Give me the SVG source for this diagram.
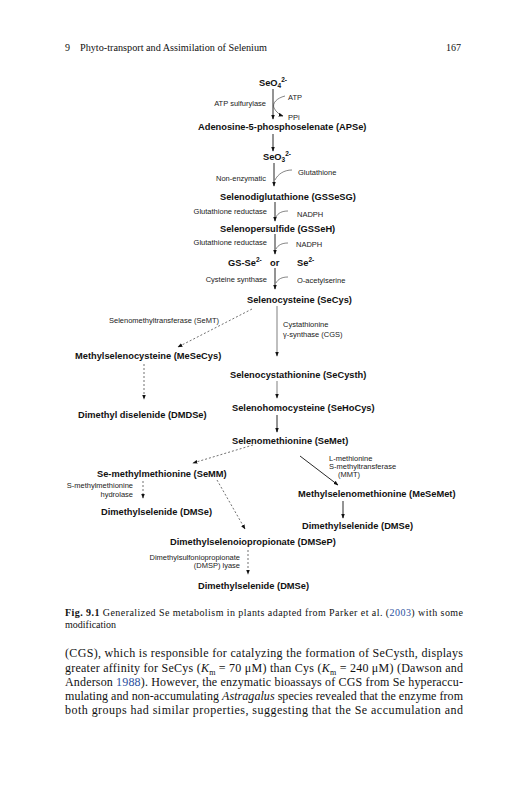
<svg xmlns="http://www.w3.org/2000/svg" width="527" height="800" viewBox="0 0 527 800">
<style>
.hd{font-family:"Liberation Serif",serif;font-size:10px;fill:#111}
.cap{font-family:"Liberation Serif",serif;font-size:10px;fill:#111}
.body{font-family:"Liberation Serif",serif;font-size:12px;fill:#111}
.n{font-family:"Liberation Sans",Arial,sans-serif;font-size:9.3px;font-weight:bold;fill:#111}
.l{font-family:"Liberation Sans",Arial,sans-serif;font-size:7.5px;fill:#222}
.e{text-anchor:end}
.a{fill:none;stroke:#111;stroke-width:0.9;marker-end:url(#ah)}
.c{fill:none;stroke:#333;stroke-width:0.6}
.g{fill:none;stroke:#aaa;stroke-width:1.5;marker-end:url(#ah)}
.d{fill:none;stroke:#333;stroke-width:0.7;stroke-dasharray:2 2;marker-end:url(#ah)}
.ref{fill:#2a4fa0}
</style>
<defs>
<marker id="ah" viewBox="0 0 8 6" refX="7" refY="3" markerWidth="5" markerHeight="4" markerUnits="userSpaceOnUse" orient="auto">
<path d="M0,0 L8,3 L0,6 z" fill="#111"/>
</marker>
</defs>
<rect width="527" height="800" fill="#fff"/>

<g id="header">
<text class="hd" x="65" y="51">9</text>
<text class="hd" x="80" y="51" textLength="187" lengthAdjust="spacingAndGlyphs">Phyto-transport and Assimilation of Selenium</text>
<text class="hd e" x="461" y="51">167</text>
</g>

<g id="connectors">
<path class="a" d="M273,89 V119"/>
<path class="c" d="M285,96 C277,98 272,103 274,108 C276,112 280,115 283,116" style="marker-end:url(#ah)"/>
<path class="a" d="M273,134 V151"/>
<path class="a" d="M274,163 V186"/>
<path class="c" d="M292,170 C284,170 278,174 275,180"/>
<path class="a" d="M275,202 V221"/>
<path class="c" d="M288,211 C282,211 278,213 276,217"/>
<path class="a" d="M275,234 V254"/>
<path class="c" d="M288,243 C282,243 278,245 276,249"/>
<path class="a" d="M275,268 V289"/>
<path class="c" d="M288,277 C282,277 278,279 276,283"/>
<path class="g" d="M277,306 V356"/>
<path class="g" d="M277,381 V398"/>
<path class="a" d="M277,415 V432"/>
<path class="a" d="M300,456 L338,485"/>
<path class="a" d="M343,501 V518"/>
<path class="d" d="M252,309 L178,347"/>
<path class="d" d="M144,364 V399"/>
<path class="d" d="M253,445 L193,463"/>
<path class="d" d="M143,481 V498"/>
<path class="d" d="M217,480 L245,529"/>
<path class="d" d="M248,550 V574"/>
</g>

<g id="edge-labels">
<text class="l" x="288" y="99.5">ATP</text>
<text class="l e" x="266" y="106">ATP sulfurylase</text>
<text class="l" x="288" y="119.5">PPi</text>
<text class="l e" x="266" y="181">Non-enzymatic</text>
<text class="l" x="298" y="175">Glutathione</text>
<text class="l e" x="267" y="214">Glutathione reductase</text>
<text class="l" x="297" y="217">NADPH</text>
<text class="l e" x="267" y="245">Glutathione reductase</text>
<text class="l" x="296" y="247">NADPH</text>
<text class="l e" x="267" y="282">Cysteine synthase</text>
<text class="l" x="297" y="283">O-acetylserine</text>
<text class="l e" x="219" y="323">Selenomethyltransferase (SeMT)</text>
<text class="l" x="283" y="327">Cystathionine</text>
<text class="l" x="283" y="337">γ-synthase (CGS)</text>
<text class="l" x="329" y="461">L-methionine</text>
<text class="l" x="329" y="469">S-methyltransferase</text>
<text class="l" x="338" y="477">(MMT)</text>
<text class="l e" x="133" y="488">S-methylmethionine</text>
<text class="l e" x="133" y="497">hydrolase</text>
<text class="l e" x="240" y="560">Dimethylsulfoniopropionate</text>
<text class="l e" x="240" y="568">(DMSP) lyase</text>
</g>

<g id="n-seo4"><text class="n" x="259" y="86">SeO<tspan font-size="6.5" dy="2">4</tspan><tspan font-size="6.5" dy="-6.5">2-</tspan></text></g>
<g id="n-apse"><text class="n" x="198" y="130">Adenosine-5-phosphoselenate (APSe)</text></g>
<g id="n-seo3"><text class="n" x="263" y="160">SeO<tspan font-size="6.5" dy="2">3</tspan><tspan font-size="6.5" dy="-6.5">2-</tspan></text></g>
<g id="n-gssesg"><text class="n" x="220" y="200">Selenodiglutathione (GSSeSG)</text></g>
<g id="n-gsseh"><text class="n" x="220" y="231.5">Selenopersulfide (GSSeH)</text></g>
<g id="n-gsse"><text class="n" x="228" y="266">GS-Se<tspan font-size="6.5" dy="-4">2-</tspan></text><text class="n" x="270" y="266">or</text><text class="n" x="297" y="266">Se<tspan font-size="6.5" dy="-4">2-</tspan></text></g>
<g id="n-secys"><text class="n" x="247" y="303">Selenocysteine (SeCys)</text></g>
<g id="n-mesecys"><text class="n" x="75" y="359">Methylselenocysteine (MeSeCys)</text></g>
<g id="n-secysth"><text class="n" x="230" y="378">Selenocystathionine (SeCysth)</text></g>
<g id="n-dmdse"><text class="n" x="78" y="418">Dimethyl diselenide (DMDSe)</text></g>
<g id="n-sehocys"><text class="n" x="232" y="411">Selenohomocysteine (SeHoCys)</text></g>
<g id="n-semet"><text class="n" x="232" y="444">Selenomethionine (SeMet)</text></g>
<g id="n-semm"><text class="n" x="97" y="477">Se-methylmethionine (SeMM)</text></g>
<g id="n-mesemet"><text class="n" x="298" y="497">Methylselenomethionine (MeSeMet)</text></g>
<g id="n-dmse1"><text class="n" x="101" y="515">Dimethylselenide (DMSe)</text></g>
<g id="n-dmse2"><text class="n" x="302" y="529">Dimethylselenide (DMSe)</text></g>
<g id="n-dmsep"><text class="n" x="170" y="545">Dimethylselenoiopropionate (DMSeP)</text></g>
<g id="n-dmse3"><text class="n" x="198" y="589">Dimethylselenide (DMSe)</text></g>

<g id="caption">
<text class="cap" x="65" y="616" textLength="398" lengthAdjust="spacing"><tspan font-weight="bold">Fig. 9.1</tspan>  Generalized Se metabolism in plants adapted from Parker et al. (<tspan class="ref">2003</tspan>) with some</text>
<text class="cap" x="65" y="628">modification</text>
</g>

<g id="body">
<text class="body" x="65" y="657" textLength="398" lengthAdjust="spacing">(CGS), which is responsible for catalyzing the formation of SeCysth, displays</text>
<text class="body" x="65" y="672" textLength="398" lengthAdjust="spacing">greater affinity for SeCys (<tspan font-style="italic">K</tspan><tspan font-size="8" dy="2.5">m</tspan><tspan dy="-2.5"> = 70 μM) than Cys (</tspan><tspan font-style="italic">K</tspan><tspan font-size="8" dy="2.5">m</tspan><tspan dy="-2.5"> = 240 μM) (Dawson and</tspan></text>
<text class="body" x="65" y="686" textLength="398" lengthAdjust="spacing">Anderson <tspan class="ref">1988</tspan>). However, the enzymatic bioassays of CGS from Se hyperaccu-</text>
<text class="body" x="65" y="700" textLength="398" lengthAdjust="spacing">mulating and non-accumulating <tspan font-style="italic">Astragalus</tspan> species revealed that the enzyme from</text>
<text class="body" x="65" y="714" textLength="398" lengthAdjust="spacing">both groups had similar properties, suggesting that the Se accumulation and</text>
</g>
</svg>
